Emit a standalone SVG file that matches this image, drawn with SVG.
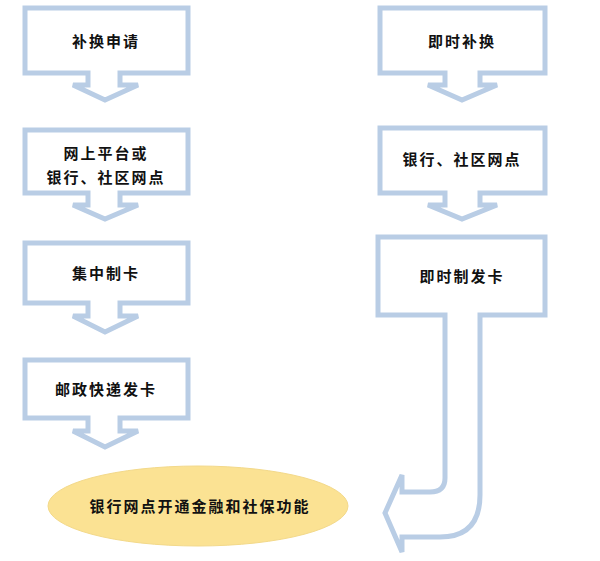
<svg xmlns="http://www.w3.org/2000/svg" width="600" height="561" viewBox="0 0 600 561">
<style>
.c{fill:#fff;stroke:#b9cde5;stroke-width:5;stroke-linejoin:miter}
.t{font-family:"Noto Sans CJK SC","Noto Sans",sans-serif;font-size:15px;font-weight:bold;fill:#111;text-anchor:middle;letter-spacing:2px}
</style>
<rect width="600" height="561" fill="#fff"/>
<g id="connectors"></g>
<g id="n1"><path class="c" d="M25,8H188V73H120V85H138L105,100L73,85H88V73H25Z"/><text class="t" x="106" y="47">补换申请</text></g>
<g id="n2"><path class="c" d="M25,130H188V193H120V205H138L105,219L73,205H88V193H25Z"/><text class="t" x="106" y="159">网上平台或</text><text class="t" x="106" y="183">银行、社区网点</text></g>
<g id="n3"><path class="c" d="M25,243H188V303H120V316H138L105,332L73,316H88V303H25Z"/><text class="t" x="106" y="279">集中制卡</text></g>
<g id="n4"><path class="c" d="M25,360H188V418H120V431H138L105,447L73,431H88V418H25Z"/><text class="t" x="106" y="395">邮政快递发卡</text></g>
<g id="r1"><path class="c" d="M380,8H545V73H480V85H497L462,100L428,85H445V73H380Z"/><text class="t" x="462" y="47">即时补换</text></g>
<g id="r2"><path class="c" d="M380,128H545V193H480V205H497L462,219L428,205H445V193H380Z"/><text class="t" x="462" y="165">银行、社区网点</text></g>
<g id="r3"><path class="c" d="M378,237H545V315H480V495Q480,537 440,537H402V552L385,513L402,475V492H430Q445,492 445,478V315H378Z"/><text class="t" x="462" y="282">即时制发卡</text></g>
<g id="end"><ellipse cx="198" cy="506" rx="150" ry="40" fill="#fbe293" stroke="#f3d98a" stroke-width="1"/><text class="t" x="200" y="512">银行网点开通金融和社保功能</text></g>
</svg>
